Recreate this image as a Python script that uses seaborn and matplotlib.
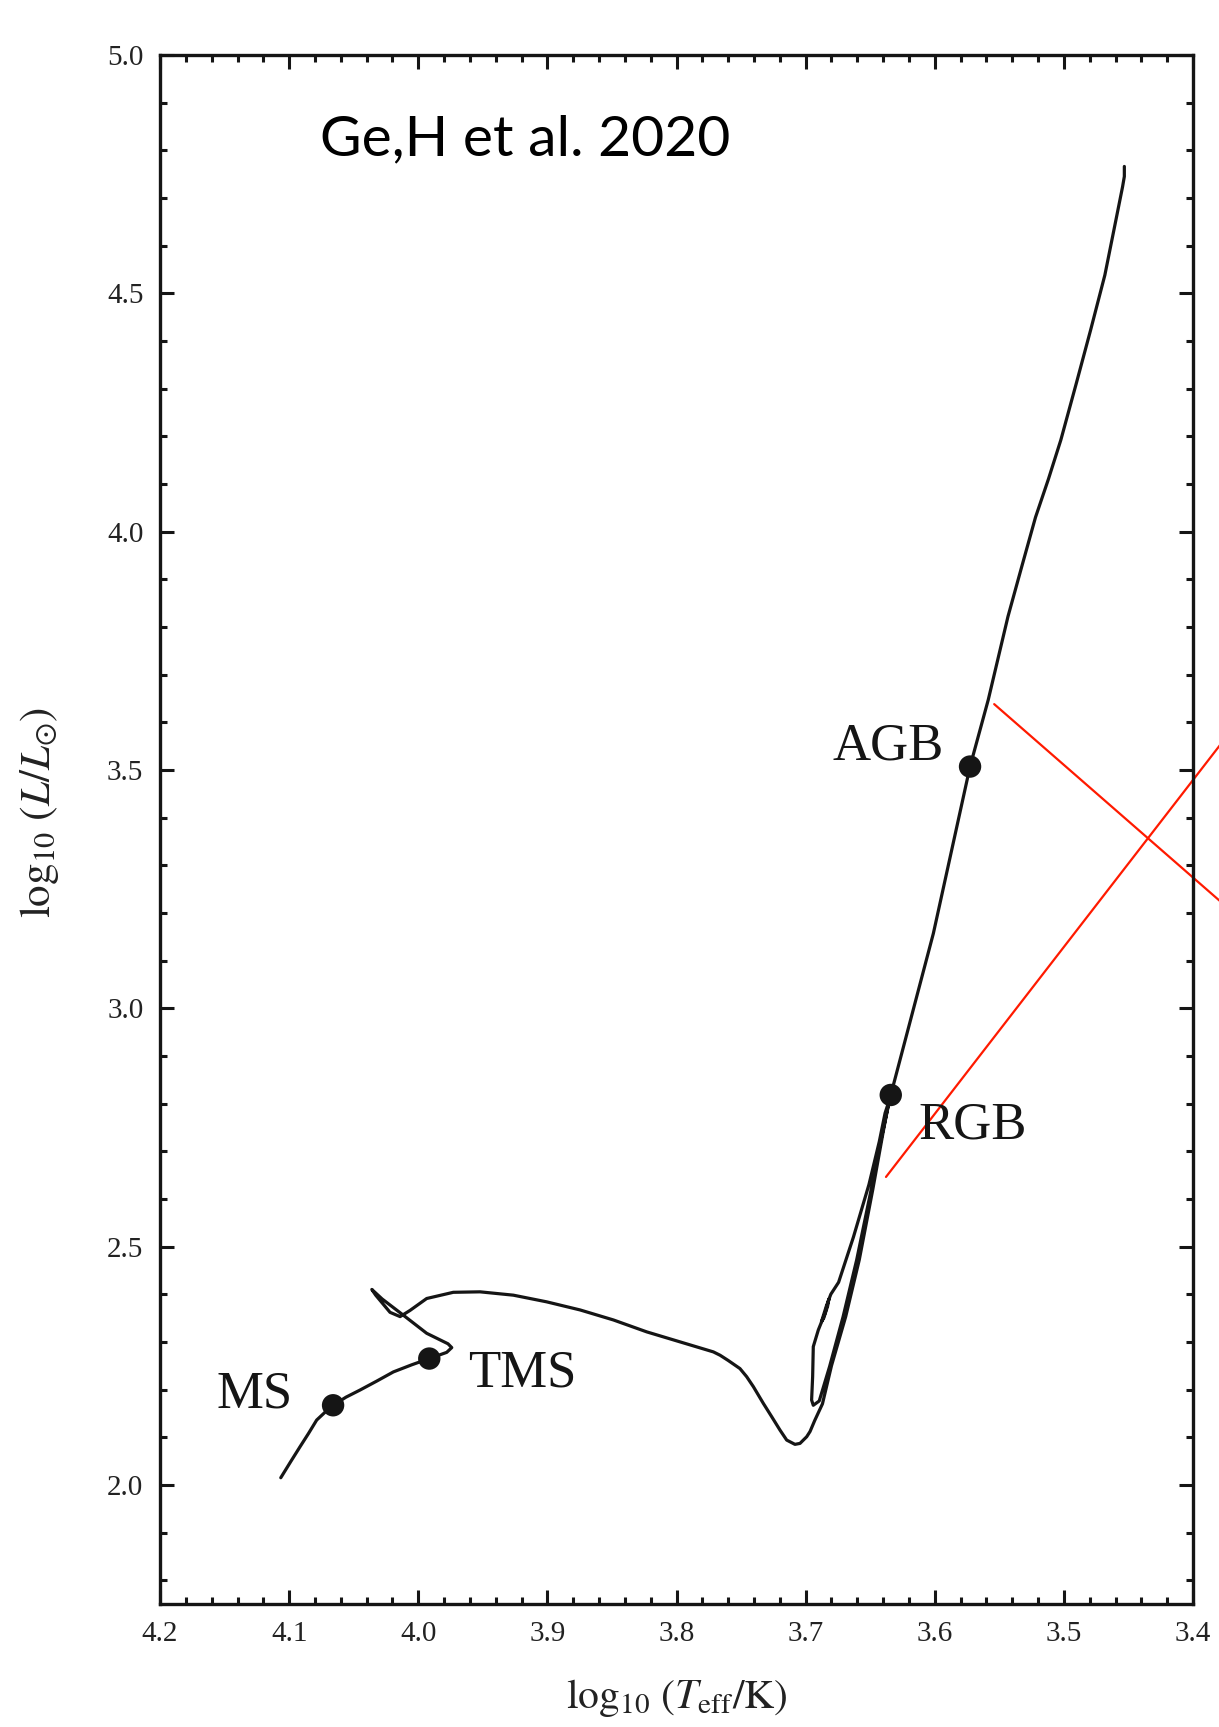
# HR diagram track (Ge, H et al. 2020) redrawn with seaborn

import numpy as np
import pandas as pd
import matplotlib
matplotlib.use('Agg')
import matplotlib.pyplot as plt
import seaborn as sns

# evolutionary track, log Teff and log L
log_teff = [4.1065, 4.0990, 4.0916, 4.0850, 4.0787, 4.0720, 4.066, 4.0560, 4.0451,
            4.0320, 4.0193, 4.0050, 3.9915, 3.978, 3.9741,
            3.977, 3.9935, 4.0116, 4.028, 4.036, 4.033, 4.0219, 4.0141, 4.0064,
            3.9935, 3.9729, 3.9522, 3.9264, 3.9006, 3.8747, 3.8489, 3.8231, 3.7973,
            3.7715, 3.7663, 3.7600, 3.7509, 3.7457, 3.7405, 3.7328, 3.7263, 3.7199,
            3.7147, 3.7083, 3.7044, 3.6992, 3.6966, 3.693, 3.687,
            3.680, 3.669, 3.6585, 3.648, 3.640, 3.6355, 3.6385, 3.643, 3.651,
            3.663, 3.6745, 3.6805, 3.684, 3.6878, 3.686, 3.683, 3.682, 3.685,
            3.6902, 3.6941, 3.6946, 3.6954, 3.6941, 3.6895, 3.6815, 3.671, 3.6605,
            3.650, 3.642, 3.6341, 3.6011, 3.5727, 3.5586, 3.5433, 3.5325, 3.522,
            3.512, 3.5024, 3.4905, 3.4793, 3.4683, 3.4597, 3.4546, 3.4532, 3.4532]
log_lum = [2.015, 2.048, 2.080, 2.108, 2.136, 2.153, 2.167, 2.184, 2.199,
           2.218, 2.237, 2.252, 2.265, 2.278, 2.288,
           2.296, 2.318, 2.356, 2.390, 2.410, 2.398, 2.362, 2.353, 2.366,
           2.391, 2.404, 2.405, 2.398, 2.384, 2.367, 2.346, 2.321, 2.300,
           2.279, 2.272, 2.261, 2.244, 2.227, 2.206, 2.171, 2.143, 2.115,
           2.094, 2.085, 2.087, 2.101, 2.112, 2.135, 2.170,
           2.250, 2.353, 2.472, 2.620, 2.740, 2.805, 2.780, 2.720, 2.630,
           2.520, 2.425, 2.400, 2.375, 2.342, 2.350, 2.375, 2.390, 2.360,
           2.325, 2.290, 2.227, 2.178, 2.167, 2.176, 2.248, 2.353, 2.472,
           2.610, 2.720, 2.818, 3.157, 3.507, 3.647, 3.822, 3.928, 4.030,
           4.110, 4.192, 4.310, 4.423, 4.538, 4.654, 4.723, 4.745, 4.766]

# marked phases
phase_names = ['MS', 'TMS', 'RGB', 'AGB']
phase_teff = [4.066, 3.9915, 3.6341, 3.5727]
phase_lum = [2.167, 2.265, 2.818, 3.507]
label_teff = [4.1559, 3.9615, 3.6128, 3.679]
label_lum = [2.190, 2.2345, 2.755, 3.549]

# red cross lines
red1_teff = [3.554, 3.35]
red1_lum = [3.638, 3.156]
red2_teff = [3.6378, 3.35]
red2_lum = [2.646, 3.654]

track_df = pd.DataFrame({'logT': log_teff, 'logL': log_lum})
phase_df = pd.DataFrame({'logT': phase_teff, 'logL': phase_lum, 'name': phase_names})

sns.set_theme(style='ticks')
plt.rcParams['font.family'] = ['Liberation Serif', 'DejaVu Serif']
plt.rcParams['mathtext.fontset'] = 'stix'

fig = plt.figure(figsize=(12.19, 17.27), dpi=100)
ax = fig.add_axes([0.1313, 0.0712, 0.8474, 0.897])

sns.lineplot(data=track_df, x='logT', y='logL', sort=False, estimator=None,
             color='#151515', linewidth=2.3, ax=ax)
for ln in ax.get_lines():
    ln.set_solid_joinstyle('round')
    ln.set_solid_capstyle('round')
sns.scatterplot(data=phase_df, x='logT', y='logL', color='#151515', s=260,
                edgecolor='none', zorder=5, ax=ax)

for name, tx, ty in zip(phase_names, label_teff, label_lum):
    ax.text(tx, ty, name, ha='left', va='center', fontsize=38, color='#151515')

ax.plot(red1_teff, red1_lum, color='#ff1a00', linewidth=1.6, clip_on=False)
ax.plot(red2_teff, red2_lum, color='#ff1a00', linewidth=1.6, clip_on=False)

ax.text(0.155, 0.945, 'Ge,H et al. 2020', transform=ax.transAxes, fontsize=41,
        family=['Lato', 'DejaVu Sans'], ha='left', va='center', color='black')

ax.set_xlim(4.2, 3.4)
ax.set_ylim(1.75, 5.0)
ax.set_xticks(np.arange(3.4, 4.21, 0.1))
ax.set_xticks(np.arange(3.4, 4.2, 0.02), minor=True)
ax.set_yticks(np.arange(2.0, 5.01, 0.5))
ax.set_yticks(np.arange(1.8, 5.0, 0.1), minor=True)
ax.xaxis.set_major_formatter(matplotlib.ticker.FormatStrFormatter('%.1f'))
ax.yaxis.set_major_formatter(matplotlib.ticker.FormatStrFormatter('%.1f'))

ax.tick_params(which='both', direction='in', top=True, right=True,
               width=2.2, color='#151515', labelsize=21, labelcolor='#222222')
ax.tick_params(which='major', length=10, pad=12)
ax.tick_params(which='minor', length=5)
for sp in ax.spines.values():
    sp.set_linewidth(2.4)
    sp.set_color('#151515')

ax.set_xlabel(r'$\log_{10}\,(T_{\rm eff}/{\rm K})$', fontsize=30, labelpad=22,
              color='#222222')
ax.set_ylabel(r'$\log_{10}\,(L/L_{\odot})$', fontsize=31, color='#222222')
ax.yaxis.set_label_coords(-0.096, 0.511)

plt.savefig('out.png', dpi=100)
